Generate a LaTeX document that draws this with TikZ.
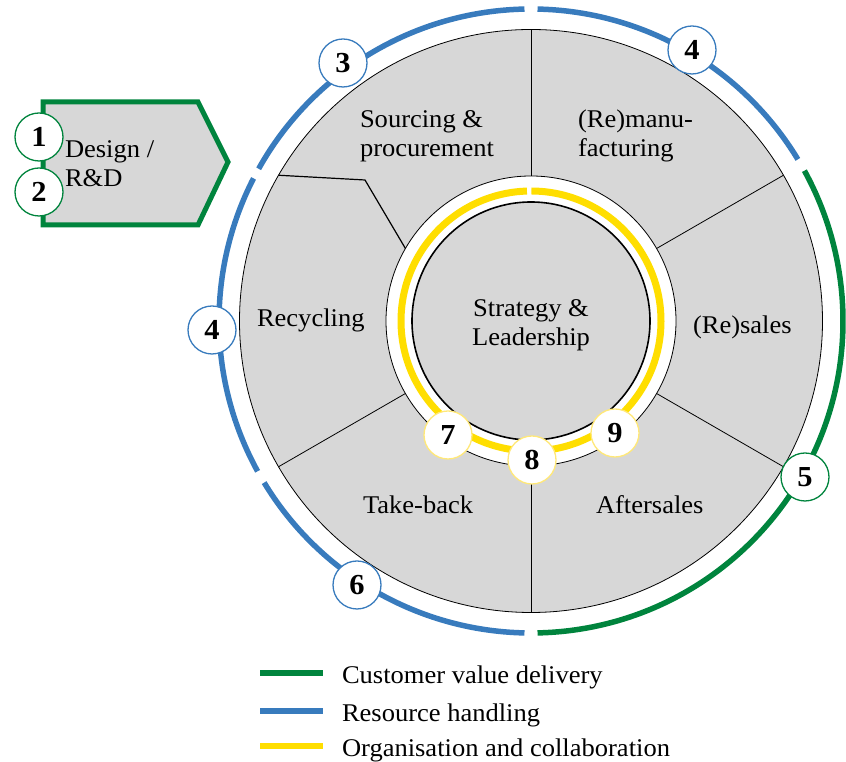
\documentclass[tikz,border=0pt]{standalone}
\usepackage{fontspec}
\setmainfont{Liberation Serif}[FakeStretch=1.04]
\newfontfamily\numfont{Liberation Serif}[FakeStretch=1.05]
\definecolor{cgreen}{RGB}{0,132,61}
\definecolor{cblue}{RGB}{56,123,189}
\definecolor{cyellow}{RGB}{255,222,0}
\definecolor{cgray}{RGB}{215,215,215}
\definecolor{lyellow}{RGB}{255,232,120}
\begin{document}
\begin{tikzpicture}[x=1pt,y=1pt,
  txt/.style={font=\fontsize{25.5}{29}\selectfont, inner sep=0pt, outer sep=0pt, align=left},
  ctxt/.style={font=\fontsize{25.5}{29}\selectfont, inner sep=0pt, outer sep=0pt, align=center},
  num/.style={circle, draw, fill=white, minimum size=48pt, inner sep=0pt, line width=1.3pt,
              font=\numfont\fontsize{29}{29}\selectfont\bfseries},
  bnum/.style={num, draw=cblue},
  gnum/.style={num, draw=cgreen},
  ynum/.style={num, draw=lyellow},
  ring/.style={line width=5.5pt},
  sector/.style={draw=black, line width=0.8pt},
  legline/.style={line width=5.5pt}
]
\useasboundingbox (0,0) rectangle (846,762);
\coordinate (C) at (531,441);

% gray disk and white ring
\node[circle, fill=cgray, draw=black, line width=0.8pt, minimum size=583pt, inner sep=0pt, outer sep=0pt] (disk) at (C) {};
\node[circle, fill=white, draw=black, line width=0.8pt, minimum size=290pt, inner sep=0pt, outer sep=0pt] (wring) at (C) {};

% sector lines
\foreach \a in {90,30,-30,-90,210} {
  \draw[sector] (wring.\a) -- (disk.\a);
}
\coordinate (bend) at (365,582);
\draw[sector, line width=1.2pt] (disk.150) -- (bend) -- (wring.150);

% yellow ring
\draw[cyellow, line width=7pt] ([shift={(89.8:130)}]C) arc[start angle=89.8, end angle=-268.2, radius=130];

% inner circle
\node[circle, fill=cgray, draw=black, line width=1.6pt, minimum size=238pt, inner sep=0pt, outer sep=0pt] (core) at (C) {};
\node[ctxt] (strat) at (531,436.5) {Strategy \&\\Leadership};

% outer arcs
\draw[ring, cblue]  ([shift={(91.2:312)}]C)  arc[start angle=91.2,  end angle=150.8, radius=312];
\draw[ring, cblue]  ([shift={(152.8:312)}]C) arc[start angle=152.8, end angle=208.8, radius=312];
\draw[ring, cblue]  ([shift={(211.2:312)}]C) arc[start angle=211.2, end angle=268.8, radius=312];
\draw[ring, cgreen] ([shift={(-88.8:312)}]C) arc[start angle=-88.8,  end angle=28.8,  radius=312];
\draw[ring, cblue]  ([shift={(31.2:312)}]C)  arc[start angle=31.2,  end angle=88.8,  radius=312];

% sector texts
\node[txt, anchor=west] (sour) at (360,626) {Sourcing \&\\procurement};
\node[txt, anchor=west] (manu) at (578,626.5) {(Re)manu-\\facturing};
\node[txt, anchor=base west] (recy) at (257,435) {Recycling};
\node[txt, anchor=base west] (resa) at (693,428) {(Re)sales};
\node[txt, anchor=base west] (take) at (363,248) {Take-back};
\node[txt, anchor=base west] (afte) at (596,248) {Aftersales};

% design box
\draw[cgreen, fill=cgray, line width=5pt, line join=miter] (43,660) -- (198,660) -- (228,600) -- (198,537) -- (43,537) -- cycle;
\node[txt, anchor=west] (design) at (65,598) {Design /\\R\&D};
\node[gnum] (n1) at (39,625) {1};
\node[gnum] (n2) at (39,570) {2};

% numbered circles on ring
\node[bnum] (n3) at (343,699) {3};
\node[bnum] (n4a) at (692,712) {4};
\node[bnum] (n4b) at (212,432) {4};
\node[gnum] (n5) at (805,285) {5};
\node[bnum] (n6) at (357,177) {6};
\node[ynum] (n7) at (448,327) {7};
\node[ynum] (n8) at (532,302) {8};
\node[ynum] (n9) at (615,329) {9};

% legend
\coordinate (g1) at (260,89);  \coordinate (g2) at (323,89);
\coordinate (b1) at (260,51);  \coordinate (b2) at (323,51);
\coordinate (y1) at (260,16);  \coordinate (y2) at (323,16);
\draw[legline, cgreen] (g1) -- (g2);
\draw[legline, cblue] (b1) -- (b2);
\draw[legline, cyellow] (y1) -- (y2);
\node[txt, anchor=base west] (lg) at (342,78) {Customer value delivery};
\node[txt, anchor=base west] (lb) at (342,40) {Resource handling};
\node[txt, anchor=base west] (ly) at (342,5) {Organisation and collaboration};
\end{tikzpicture}
\end{document}
